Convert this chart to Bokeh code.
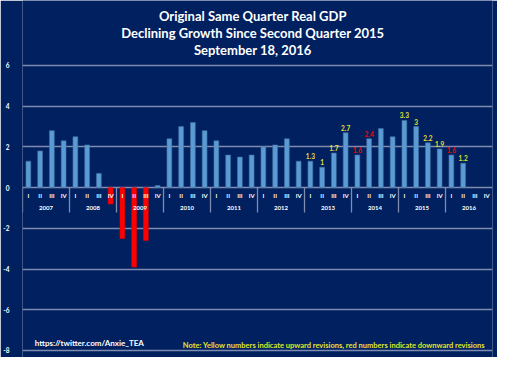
import math
from bokeh.plotting import figure
from bokeh.models import Range1d, FixedTicker, Label, ColumnDataSource
from bokeh.core.properties import value
from bokeh.embed import file_html
from bokeh.resources import INLINE

# ---------------- data ----------------
years = ["2007", "2008", "2009", "2010", "2011", "2012", "2013", "2014", "2015", "2016"]
quarters = ["I", "II", "III", "IV"]
gdp = [
    1.3, 1.8, 2.8, 2.3,      # 2007
    2.5, 2.1, 0.7, -0.8,     # 2008
    -2.5, -3.9, -2.6, 0.1,   # 2009
    2.4, 3.0, 3.2, 2.8,      # 2010
    2.3, 1.6, 1.5, 1.6,      # 2011
    2.0, 2.1, 2.4, 1.3,      # 2012
    1.3, 1.0, 1.7, 2.7,      # 2013
    1.6, 2.4, 2.9, 2.5,      # 2014
    3.3, 3.0, 2.2, 1.9,      # 2015
    1.6, 1.2, None, None,    # 2016
]
revision = (
    [None] * 24
    + ["up", "up", "up", "up"]          # 2013
    + ["down", "down", None, None]      # 2014
    + ["up", "up", "up", "up"]          # 2015
    + ["down", "up", None, None]        # 2016
)
y_ticks = [-8, -6, -4, -2, 0, 2, 4, 6]
title_lines = ["Original Same Quarter Real GDP",
               "Declining Growth Since Second Quarter 2015",
               "September 18, 2016"]
source_text = "https://twitter.com/Anxie_TEA"
note_text = "Note: Yellow numbers indicate upward revisions, red numbers indicate downward revisions"

# ---------------- styles ----------------
NAVY = "#002060"
BLUE = "#5B9BD5"
RED = "#FF0000"
GRID = "#7F8CB0"
YELLOW = "#E2E62A"
FONT = value("Lato")

n = len(years) * len(quarters)
idx = list(range(n))
tops = [float("nan") if v is None else v for v in gdp]
colors = [RED if (v is not None and v < 0) else BLUE for v in gdp]
lines = ["#E00000" if (v is not None and v < 0) else "#41719C" for v in gdp]

p = figure(width=497, height=357, output_backend="svg", toolbar_location=None,
           x_range=Range1d(-0.5, n - 0.5), y_range=Range1d(-8.344, 9.193),
           x_axis_location=None,
           min_border_left=15, min_border_right=5, min_border_top=0, min_border_bottom=0,
           background_fill_color=NAVY, border_fill_color=NAVY, outline_line_color=None)

p.xgrid.visible = False
p.ygrid.ticker = FixedTicker(ticks=y_ticks)
p.ygrid.grid_line_color = GRID
p.ygrid.grid_line_width = 1.3

ya = p.yaxis[0]
ya.ticker = FixedTicker(ticks=y_ticks)
ya.major_label_overrides = {t: str(t) for t in y_ticks}
ya.axis_line_color = None
ya.major_tick_line_color = None
ya.minor_tick_line_color = None
ya.major_label_standoff = 7
ya.major_label_text_color = "white"
ya.major_label_text_font = "Lato"
ya.major_label_text_font_style = "bold"
ya.major_label_text_font_size = "6.5px"

# bars
src = ColumnDataSource(dict(x=idx, top=tops, fill=colors, line=lines))
p.vbar(x="x", top="top", bottom=0, width=0.41, fill_color="fill", line_color="line",
       line_width=0.6, source=src)

# category axis drawn at the zero line
p.text(x=idx, y=[0] * n, text=quarters * len(years), text_color="white", text_font=FONT,
       text_font_style="bold", text_font_size="6px", text_align="center",
       text_baseline="middle", y_offset=8)
year_x = [i * 4 + 1.5 for i in range(len(years))]
p.text(x=year_x, y=[0] * len(years), text=years, text_color="white", text_font=FONT,
       text_font_style="bold", text_font_size="6px", text_align="center",
       text_baseline="middle", y_offset=20)
sep_x = [i * 4 - 0.5 for i in range(len(years))]
p.segment(x0=sep_x, y0=[0] * len(sep_x), x1=sep_x, y1=[-1.22] * len(sep_x),
          line_color=GRID, line_width=1.3)

# revision labels
lx, ly, lt, lc = [], [], [], []
for i, (v, r) in enumerate(zip(gdp, revision)):
    if r is None or v is None:
        continue
    lx.append(i)
    ly.append(v)
    lt.append(f"{v:g}")
    lc.append(YELLOW if r == "up" else RED)
p.text(x=lx, y=ly, text=lt, text_color=lc, text_font=FONT, text_font_style="bold",
       text_font_size="6.5px", text_align="center", text_baseline="bottom", y_offset=-2)

# titles
for ty, line in zip([8.44, 7.60, 6.75], title_lines):
    p.add_layout(Label(x=19.1, y=ty, text=line, text_color="white", text_font="Lato",
                       text_font_style="bold", text_font_size="13px", text_align="center",
                       text_baseline="middle"))

p.add_layout(Label(x=0.55, y=-7.64, text=source_text, text_color="white", text_font="Lato",
                   text_font_style="bold", text_font_size="8px", text_align="left",
                   text_baseline="middle"))
p.add_layout(Label(x=38.86, y=-7.73, text=note_text, text_color=YELLOW, text_font="Lato",
                   text_font_style="bold", text_font_size="7.5px", text_align="right",
                   text_baseline="middle"))

open("out.html", "w").write(file_html(p, INLINE))
